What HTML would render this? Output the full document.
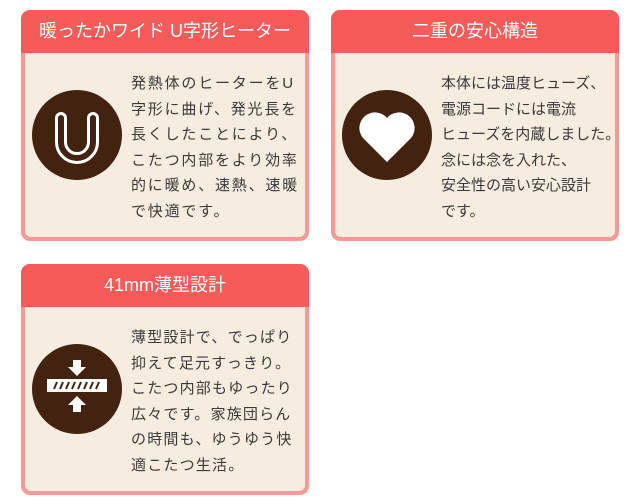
<!DOCTYPE html>
<html><head><meta charset="utf-8"><style>
body{margin:0;width:640px;height:503px;background:#fff;font-family:"Liberation Sans","Noto Sans CJK JP",sans-serif;position:relative;overflow:hidden}
.card{position:absolute;width:288px;height:231px;background:#f29a96;border-radius:9px;box-sizing:border-box}
.hd{position:absolute;left:0;top:0;right:0;height:43px;background:#f65a59;border-radius:9px 9px 0 0;color:#fff;font-size:18px;line-height:43px;text-align:center}
.bd{position:absolute;left:4px;right:4px;top:43px;bottom:4px;background:#f6ede0;border-radius:0 0 6px 6px}
.ci{position:absolute;left:7px;top:37px;width:90px;height:90px;border-radius:50%;background:#43220f}
.tx{position:absolute;left:106px;top:18px;width:190px;font-size:15px;line-height:25.5px;color:#3a3a3a;white-space:nowrap}
</style></head><body>
<div class="card" style="left:21px;top:10px">
<div class="hd">暖ったかワイド U字形ヒーター</div>
<div class="bd"><div class="ci"><svg width="90" height="90"><path d="M29 28 V52 A16 16 0 0 0 61 52 V28" fill="none" stroke="#fff" stroke-width="12" stroke-linecap="round"/><path d="M29 28 V52 A16 16 0 0 0 61 52 V28" fill="none" stroke="#43220f" stroke-width="6" stroke-linecap="round"/></svg></div>
<div class="tx" style="letter-spacing:1.8px">発熱体のヒーターをU<br>字形に曲げ、発光長を<br>長くしたことにより、<br>こたつ内部をより効率<br>的に暖め、速熱、速暖<br>で快適です。</div></div></div>
<div class="card" style="left:331px;top:10px">
<div class="hd">二重の安心構造</div>
<div class="bd"><div class="ci"><svg width="90" height="90"><path d="M45 72 L21 48 A13 13 0 0 1 45 28 A13 13 0 0 1 69 48 Z" fill="#fff"/></svg></div>
<div class="tx" style="letter-spacing:0px">本体には温度ヒューズ、<br>電源コードには電流<br>ヒューズを内蔵しました。<br>念には念を入れた、<br>安全性の高い安心設計<br>です。</div></div></div>
<div class="card" style="left:21px;top:264px">
<div class="hd">41mm薄型設計</div>
<div class="bd"><div class="ci"><svg width="90" height="90"><path d="M41 16 h8 v7 h5 l-9 9 l-9 -9 h5z" fill="#fff"/><rect x="15" y="35" width="60" height="13" fill="#fff"/><g stroke="#43220f" stroke-width="2"><line x1="22" y1="45" x2="25" y2="38"/><line x1="28" y1="45" x2="31" y2="38"/><line x1="34" y1="45" x2="37" y2="38"/><line x1="40" y1="45" x2="43" y2="38"/><line x1="46" y1="45" x2="49" y2="38"/><line x1="52" y1="45" x2="55" y2="38"/><line x1="58" y1="45" x2="61" y2="38"/><line x1="64" y1="45" x2="67" y2="38"/></g><path d="M41 68 h8 v-7 h5 l-9 -9 l-9 9 h5z" fill="#fff"/></svg></div>
<div class="tx" style="letter-spacing:1.2px">薄型設計で、でっぱり<br>抑えて足元すっきり。<br>こたつ内部もゆったり<br>広々です。家族団らん<br>の時間も、ゆうゆう快<br>適こたつ生活。</div></div></div>
</body></html>
